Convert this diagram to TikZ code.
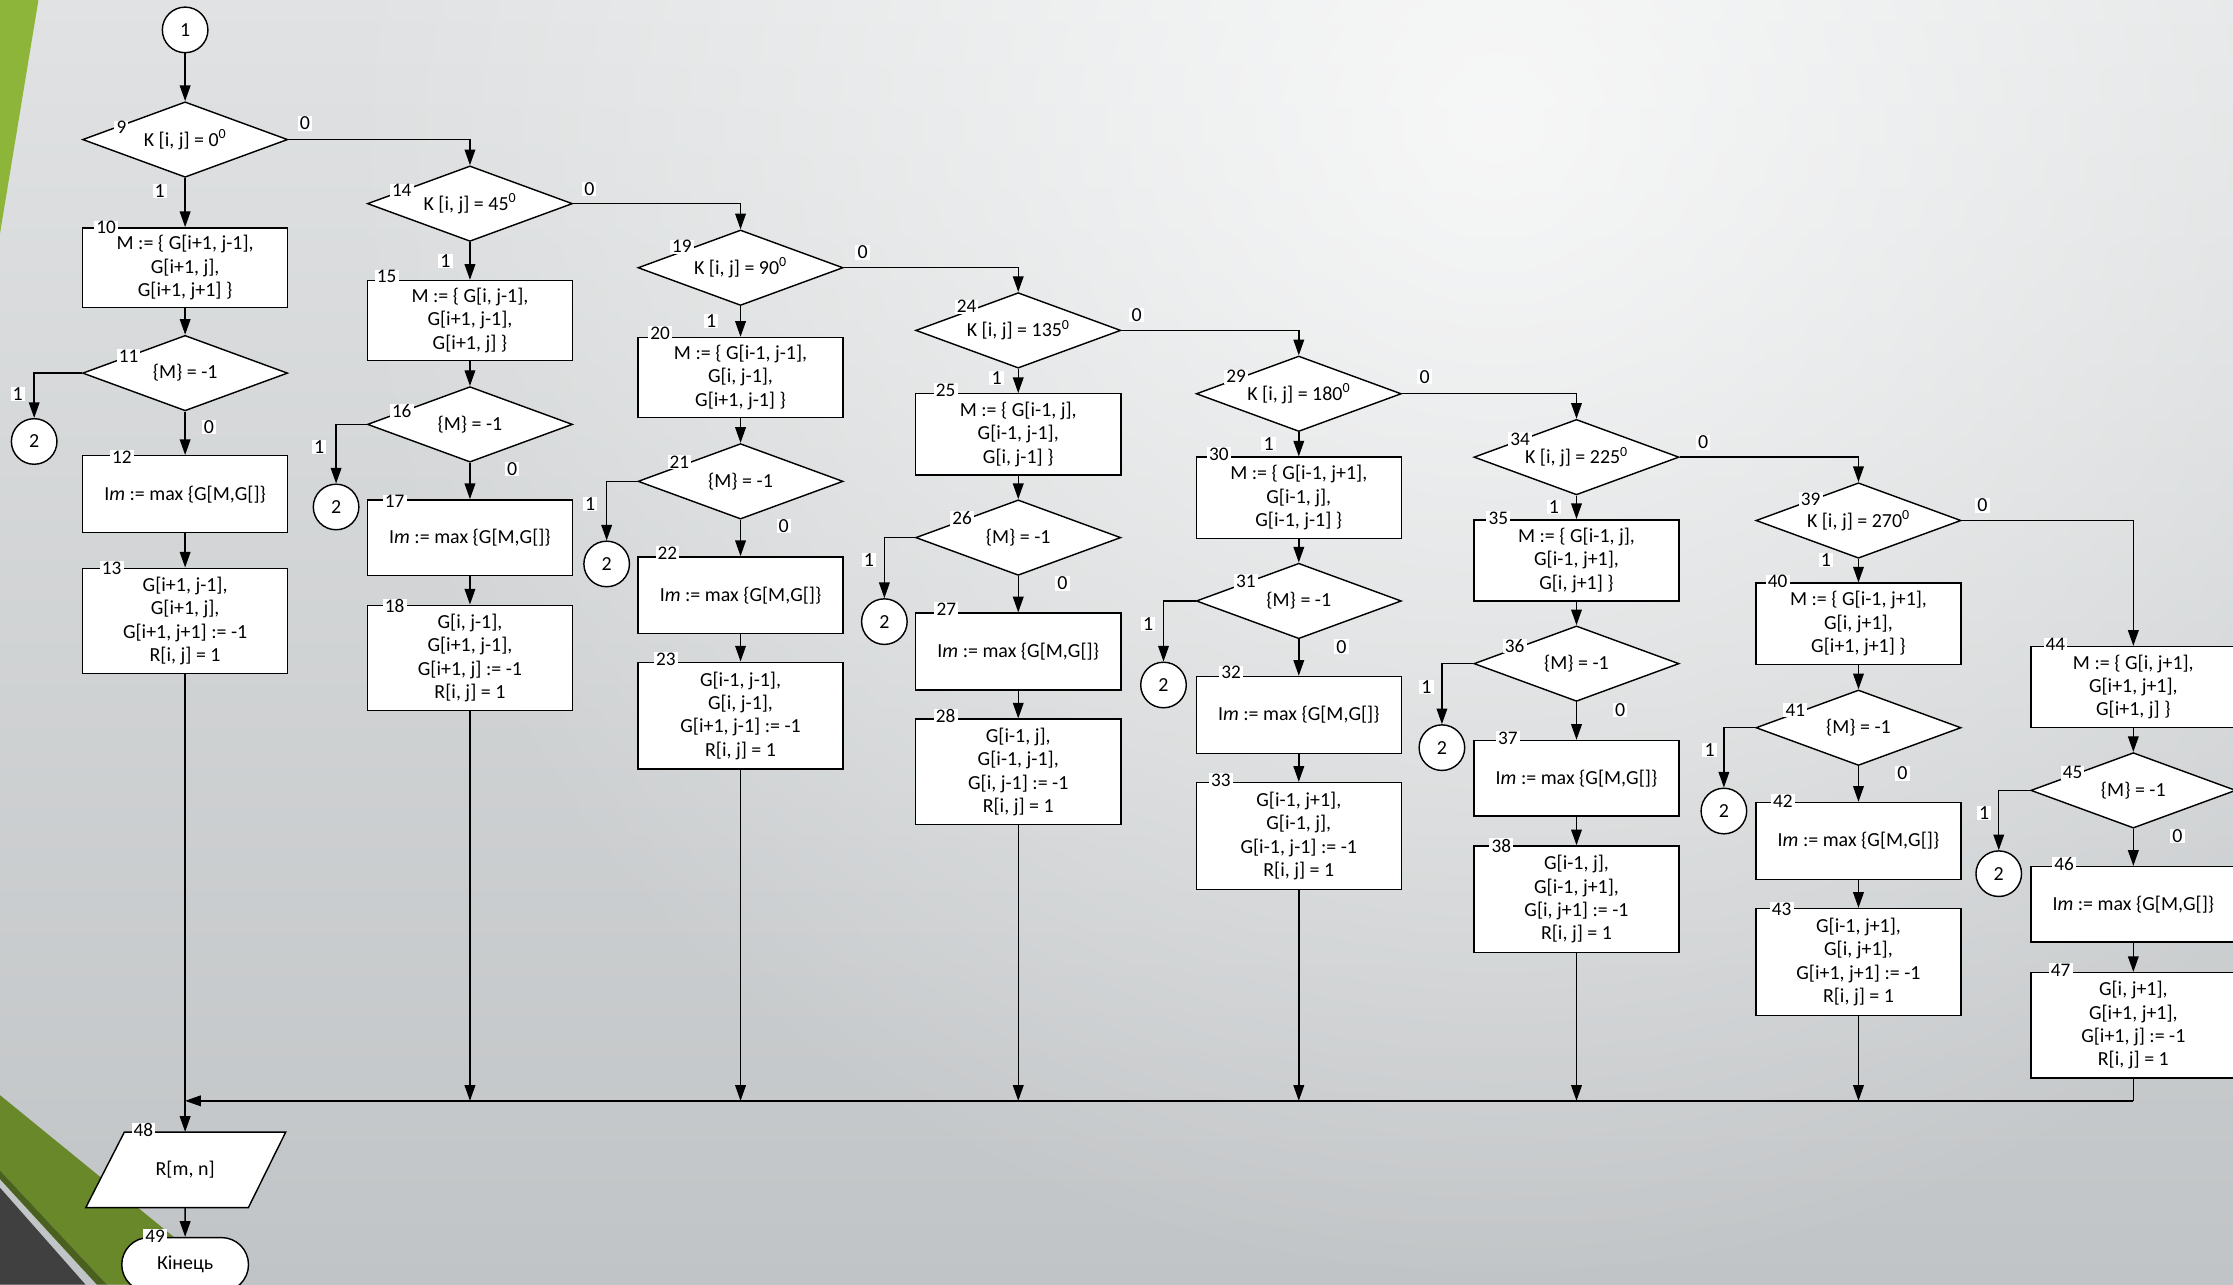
\documentclass[tikz,border=0pt]{standalone}
\usepackage{fontspec}
\setmainfont{Carlito}
\usetikzlibrary{shapes.geometric,shapes.misc,arrows.meta,fadings}
\tikzfading[name=myfade,inner color=transparent!0,outer color=transparent!100]
\newcommand\mytxt{\fontsize{14}{16.4}\selectfont}
\newcommand\mynum{\fontsize{13.5}{15}\selectfont}
\definecolor{bgtop}{RGB}{224,226,227}
\definecolor{bgbot}{RGB}{193,196,198}
\definecolor{grA}{RGB}{140,181,58}
\definecolor{grB}{RGB}{104,136,42}
\definecolor{grC}{RGB}{74,96,30}
\definecolor{dkg}{RGB}{64,64,64}
\tikzset{
  ln/.style={line width=1pt,-{Triangle[length=11pt,width=7.5pt]}},
  pl/.style={line width=1pt},
  proc/.style={draw,line width=1pt,fill=white,minimum width=144pt,inner sep=0pt,align=center,font=\mytxt},
  dec/.style={draw,line width=1pt,fill=white,diamond,aspect=2.7,minimum width=144pt,minimum height=53pt,inner sep=0pt,font=\mytxt},
  conn/.style={draw,line width=1pt,fill=white,circle,minimum size=32pt,inner sep=0pt,font=\mytxt},
  num/.style={fill=white,inner xsep=1.5pt,inner ysep=0.5pt,font=\mynum},
  bit/.style={fill=white,inner xsep=1.5pt,inner ysep=0.5pt,font=\mytxt},
}
\begin{document}
\begin{tikzpicture}[x=1pt,y=-1pt]
\useasboundingbox (0,0) rectangle (1568,902);
\clip (0,0) rectangle (1568,902);
% background
\shade[top color=bgtop,bottom color=bgbot] (0,0) rectangle (1568,902);
\fill[white,fill opacity=0.75,path fading=myfade] (1050,90) circle[radius=820pt];
\fill[grA] (0,0) -- (27,0) -- (0,164) -- cycle;
\fill[grB] (0,769) -- (163,902) -- (75,902) -- (0,822) -- cycle;
\fill[grC] (0,822) -- (75,902) -- (68,902) -- (0,828) -- cycle;
\fill[dkg] (0,834) -- (60,902) -- (0,902) -- cycle;

% ---------- column 1
\node[conn] (c1) at (130,21) {1};
\node[dec] (k9) at (130,98) {K [i, j] = 0\textsuperscript{0}};
\node[proc,minimum height=56pt] (m10) at (130,188) {M := \{ G[i+1, j-1],\\ G[i+1, j],\\ G[i+1, j+1] \}};
\node[dec] (d11) at (130,262) {\{M\} = -1};
\node[conn] (c11) at (24,310) {2};
\node[proc,minimum height=54pt] (i12) at (130,347) {I\textit{m} := max \{G[M,G[]\}};
\node[proc,minimum height=74pt] (g13) at (130,436) {G[i+1, j-1],\\ G[i+1, j],\\ G[i+1, j+1] := -1\\ R[i, j] = 1};

% ---------- column 2
\node[dec] (k14) at (330,143) {K [i, j] = 45\textsuperscript{0}};
\node[proc,minimum height=56pt] (m15) at (330,225) {M := \{ G[i, j-1],\\ G[i+1, j-1],\\ G[i+1, j] \}};
\node[dec] (d16) at (330,298) {\{M\} = -1};
\node[conn] (c16) at (236,356) {2};
\node[proc,minimum height=53pt] (i17) at (330,377.5) {I\textit{m} := max \{G[M,G[]\}};
\node[proc,minimum height=74pt] (g18) at (330,462) {G[i, j-1],\\ G[i+1, j-1],\\ G[i+1, j] := -1\\ R[i, j] = 1};

% ---------- column 3
\node[dec] (k19) at (520,188) {K [i, j] = 90\textsuperscript{0}};
\node[proc,minimum height=56pt] (m20) at (520,265) {M := \{ G[i-1, j-1],\\ G[i, j-1],\\ G[i+1, j-1] \}};
\node[dec] (d21) at (520,338) {\{M\} = -1};
\node[conn] (c21) at (426,396) {2};
\node[proc,minimum height=54pt] (i22) at (520,418) {I\textit{m} := max \{G[M,G[]\}};
\node[proc,minimum height=75pt] (g23) at (520,502.5) {G[i-1, j-1],\\ G[i, j-1],\\ G[i+1, j-1] := -1\\ R[i, j] = 1};

% ---------- column 4
\node[dec] (k24) at (715,232) {K [i, j] = 135\textsuperscript{0}};
\node[proc,minimum height=57pt] (m25) at (715,305) {M := \{ G[i-1, j],\\ G[i-1, j-1],\\ G[i, j-1] \}};
\node[dec] (d26) at (715,377.5) {\{M\} = -1};
\node[conn] (c26) at (621,436.5) {2};
\node[proc,minimum height=54pt] (i27) at (715,457.5) {I\textit{m} := max \{G[M,G[]\}};
\node[proc,minimum height=74pt] (g28) at (715,542) {G[i-1, j],\\ G[i-1, j-1],\\ G[i, j-1] := -1\\ R[i, j] = 1};

% ---------- column 5
\node[dec] (k29) at (912,276.5) {K [i, j] = 180\textsuperscript{0}};
\node[proc,minimum height=57pt] (m30) at (912,349.5) {M := \{ G[i-1, j+1],\\ G[i-1, j],\\ G[i-1, j-1] \}};
\node[dec] (d31) at (912,422) {\{M\} = -1};
\node[conn] (c31) at (817,481) {2};
\node[proc,minimum height=54pt] (i32) at (912,502) {I\textit{m} := max \{G[M,G[]\}};
\node[proc,minimum height=75pt] (g33) at (912,587) {G[i-1, j+1],\\ G[i-1, j],\\ G[i-1, j-1] := -1\\ R[i, j] = 1};

% ---------- column 6
\node[dec] (k34) at (1107,321) {K [i, j] = 225\textsuperscript{0}};
\node[proc,minimum height=57pt] (m35) at (1107,393.5) {M := \{ G[i-1, j],\\ G[i-1, j+1],\\ G[i, j+1] \}};
\node[dec] (d36) at (1107,466) {\{M\} = -1};
\node[conn] (c36) at (1012.5,525) {2};
\node[proc,minimum height=53pt] (i37) at (1107,546.5) {I\textit{m} := max \{G[M,G[]\}};
\node[proc,minimum height=75pt] (g38) at (1107,631.5) {G[i-1, j],\\ G[i-1, j+1],\\ G[i, j+1] := -1\\ R[i, j] = 1};

% ---------- column 7
\node[dec] (k39) at (1305,365.5) {K [i, j] = 270\textsuperscript{0}};
\node[proc,minimum height=57pt] (m40) at (1305,438) {M := \{ G[i-1, j+1],\\ G[i, j+1],\\ G[i+1, j+1] \}};
\node[dec] (d41) at (1305,511) {\{M\} = -1};
\node[conn] (c41) at (1210.5,569.5) {2};
\node[proc,minimum height=54pt] (i42) at (1305,590.5) {I\textit{m} := max \{G[M,G[]\}};
\node[proc,minimum height=75pt] (g43) at (1305,675.5) {G[i-1, j+1],\\ G[i, j+1],\\ G[i+1, j+1] := -1\\ R[i, j] = 1};

% ---------- column 8
\node[proc,minimum height=57pt] (m44) at (1498,482.5) {M := \{ G[i, j+1],\\ G[i+1, j+1],\\ G[i+1, j] \}};
\node[dec] (d45) at (1498,555) {\{M\} = -1};
\node[conn] (c45) at (1403.5,613.5) {2};
\node[proc,minimum height=53pt] (i46) at (1498,635) {I\textit{m} := max \{G[M,G[]\}};
\node[proc,minimum height=74pt] (g47) at (1498,720) {G[i, j+1],\\ G[i+1, j+1],\\ G[i+1, j] := -1\\ R[i, j] = 1};

% ---------- output and end
\draw[line width=1pt,fill=white] (87.3,795) -- (200.6,795) -- (174.4,848) -- (60.2,848) -- cycle;
\node[inner sep=0pt,minimum width=113pt,minimum height=53pt,font=\mytxt] (p48) at (130,821.5) {R[m, n]};
\node[draw,line width=1pt,fill=white,rounded rectangle,minimum width=89pt,minimum height=38pt,inner sep=0pt,font=\mytxt] (t49) at (130,888) {Кінець};

% merge coordinates
\coordinate (j1) at (130,773);
\coordinate (j2) at (330,773);
\coordinate (j3) at (520,773);
\coordinate (j4) at (715,773);
\coordinate (j5) at (912,773);
\coordinate (j6) at (1107,773);
\coordinate (j7) at (1305,773);
\coordinate (j8) at (1498,773);

% ---------- connectors
\draw[ln] (c1) -- (k9);
\draw[ln] (k9) -- (m10);
\draw[ln] (m10) -- (d11);
\draw[ln] (d11.west) -| (c11.north);
\draw[ln] (d11) -- (i12);
\draw[ln] (i12) -- (g13);
\draw[ln] (g13) -- (p48);
\draw[ln] (k9.east) -| (k14.north);

\draw[ln] (k14) -- (m15);
\draw[ln] (m15) -- (d16);
\draw[ln] (d16.west) -| (c16.north);
\draw[ln] (d16) -- (i17);
\draw[ln] (i17) -- (g18);
\draw[ln] (g18) -- (j2);
\draw[ln] (k14.east) -| (k19.north);

\draw[ln] (k19) -- (m20);
\draw[ln] (m20) -- (d21);
\draw[ln] (d21.west) -| (c21.north);
\draw[ln] (d21) -- (i22);
\draw[ln] (i22) -- (g23);
\draw[ln] (g23) -- (j3);
\draw[ln] (k19.east) -| (k24.north);

\draw[ln] (k24) -- (m25);
\draw[ln] (m25) -- (d26);
\draw[ln] (d26.west) -| (c26.north);
\draw[ln] (d26) -- (i27);
\draw[ln] (i27) -- (g28);
\draw[ln] (g28) -- (j4);
\draw[ln] (k24.east) -| (k29.north);

\draw[ln] (k29) -- (m30);
\draw[ln] (m30) -- (d31);
\draw[ln] (d31.west) -| (c31.north);
\draw[ln] (d31) -- (i32);
\draw[ln] (i32) -- (g33);
\draw[ln] (g33) -- (j5);
\draw[ln] (k29.east) -| (k34.north);

\draw[ln] (k34) -- (m35);
\draw[ln] (m35) -- (d36);
\draw[ln] (d36.west) -| (c36.north);
\draw[ln] (d36) -- (i37);
\draw[ln] (i37) -- (g38);
\draw[ln] (g38) -- (j6);
\draw[ln] (k34.east) -| (k39.north);

\draw[ln] (k39) -- (m40);
\draw[ln] (m40) -- (d41);
\draw[ln] (d41.west) -| (c41.north);
\draw[ln] (d41) -- (i42);
\draw[ln] (i42) -- (g43);
\draw[ln] (g43) -- (j7);
\draw[ln] (k39.east) -| (m44.north);

\draw[ln] (m44) -- (d45);
\draw[ln] (d45.west) -| (c45.north);
\draw[ln] (d45) -- (i46);
\draw[ln] (i46) -- (g47);
\draw[pl] (g47) -- (j8);
\draw[ln] (j8) -- (j1);
\draw[ln] (p48) -- (t49);

% ---------- number labels
\node[num] (l9) at (85.3,89.7) {9};
\node[num] (l10) at (74.6,159.9) {10};
\node[num] (l11) at (90.3,250) {11};
\node[num] (l12) at (85.6,321.1) {12};
\node[num] (l13) at (78.4,399) {13};
\node[num] (l14) at (282.1,133.9) {14};
\node[num] (l15) at (271.5,194.3) {15};
\node[num] (l16) at (282.1,288.6) {16};
\node[num] (l17) at (277.1,352.3) {17};
\node[num] (l18) at (277.1,425.5) {18};
\node[num] (l19) at (478.8,173.2) {19};
\node[num] (l20) at (463.5,234) {20};
\node[num] (l21) at (477.1,324.6) {21};
\node[num] (l22) at (468.7,388.6) {22};
\node[num] (l23) at (467.6,462.9) {23};
\node[num] (l24) at (678.7,215.4) {24};
\node[num] (l25) at (664,273.9) {25};
\node[num] (l26) at (675.5,364) {26};
\node[num] (l27) at (664.5,427.9) {27};
\node[num] (l28) at (664,502.8) {28};
\node[num] (l29) at (868,264.5) {29};
\node[num] (l30) at (855.9,318.8) {30};
\node[num] (l31) at (874.8,408) {31};
\node[num] (l32) at (864.5,472.4) {32};
\node[num] (l33) at (857.3,547.7) {33};
\node[num] (l34) at (1067.4,308.3) {34};
\node[num] (l35) at (1052.1,364) {35};
\node[num] (l36) at (1063.6,453.6) {36};
\node[num] (l37) at (1058.8,518.5) {37};
\node[num] (l38) at (1054.2,593.8) {38};
\node[num] (l39) at (1271.4,350.6) {39};
\node[num] (l40) at (1248.3,408.5) {40};
\node[num] (l41) at (1260.6,498.6) {41};
\node[num] (l42) at (1251.9,562.5) {42};
\node[num] (l43) at (1251.1,638.3) {43};
\node[num] (l44) at (1443.3,452.5) {44};
\node[num] (l45) at (1455.3,542.6) {45};
\node[num] (l46) at (1449.4,606.7) {46};
\node[num] (l47) at (1447,681.2) {47};
\node[num] (l48) at (100.7,793.5) {48};
\node[num] (l49) at (109,868) {49};

% ---------- branch labels
\node[bit] (r9) at (214.2,86.6) {0};
\node[bit] (s9) at (112.2,134.1) {1};
\node[bit] (r14) at (413.8,132.7) {0};
\node[bit] (s14) at (312.8,183.3) {1};
\node[bit] (r19) at (605.7,177.2) {0};
\node[bit] (s19) at (499.3,225.2) {1};
\node[bit] (r24) at (798.1,221.2) {0};
\node[bit] (s24) at (699.8,265.2) {1};
\node[bit] (r29) at (1000.3,264.5) {0};
\node[bit] (s29) at (890.8,311.8) {1};
\node[bit] (r34) at (1195.9,310.6) {0};
\node[bit] (s34) at (1091.1,355.8) {1};
\node[bit] (r39) at (1392,354.8) {0};
\node[bit] (s39) at (1282.2,393.3) {1};

\node[bit] (t11) at (12.5,276.7) {1};
\node[bit] (u11) at (146.7,300) {0};
\node[bit] (t16) at (224.1,313.7) {1};
\node[bit] (u16) at (359.6,329.3) {0};
\node[bit] (t21) at (414.4,354) {1};
\node[bit] (u21) at (550.3,369.4) {0};
\node[bit] (t26) at (610.2,393.2) {1};
\node[bit] (u26) at (746,409.6) {0};
\node[bit] (t31) at (806.2,438.2) {1};
\node[bit] (u31) at (941.9,454.1) {0};
\node[bit] (t36) at (1001.6,482.2) {1};
\node[bit] (u36) at (1137.6,498.6) {0};
\node[bit] (t41) at (1200.5,526.7) {1};
\node[bit] (u41) at (1335.9,543) {0};
\node[bit] (t45) at (1393.2,571.1) {1};
\node[bit] (u45) at (1528.9,587) {0};
\end{tikzpicture}
\end{document}
